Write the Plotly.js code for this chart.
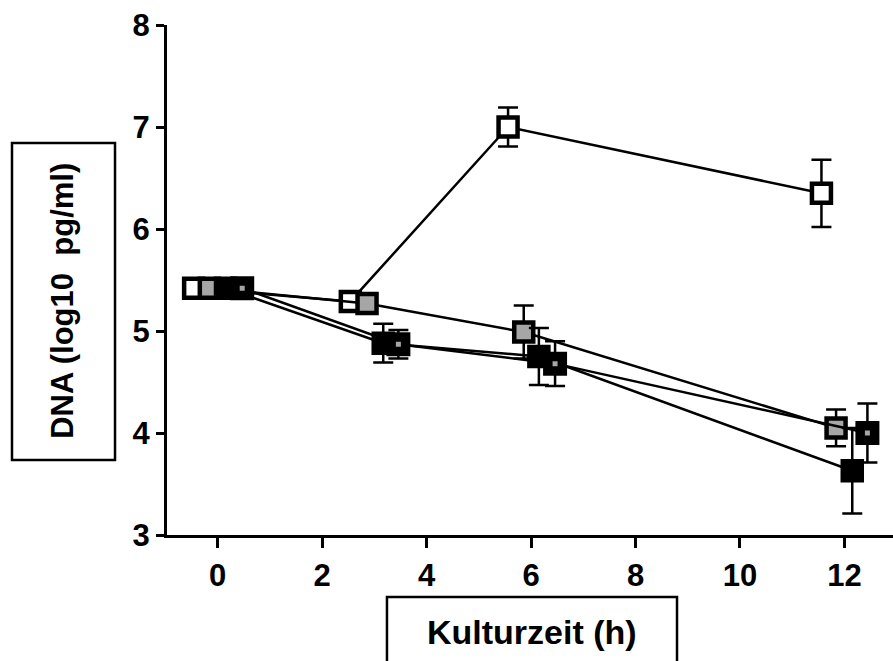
<!DOCTYPE html>
<html>
<head>
<meta charset="utf-8">
<script src="https://cdn.plot.ly/plotly-3.0.1.min.js"></script>
<style>html,body{margin:0;padding:0;background:#fff;}#chart{width:893px;height:661px;}</style>
</head>
<body>
<div id="chart"></div>
<script>
// Data (time in h, DNA in log10 pg/ml)
const xOpen   = [-0.46, 2.54, 5.56, 11.56];
const yOpen   = [5.42, 5.29, 7.00, 6.35];
const eOpen   = [0, 0, 0.19, 0.33];

const xGray   = [-0.16, 2.86, 5.86, 11.84];
const yGray   = [5.42, 5.27, 4.99, 4.05];
const eGray   = [0, 0, 0.26, 0.18];

const xBlack  = [0.15, 3.17, 6.15, 12.15];
const yBlack  = [5.42, 4.88, 4.75, 3.63];
const eBlack  = [0, 0.19, 0.28, 0.42];

const xDot    = [0.47, 3.46, 6.46, 12.44];
const yDot    = [5.42, 4.87, 4.68, 4.00];
const eDot    = [0, 0.14, 0.22, 0.29];

const yTicks = [3, 4, 5, 6, 7, 8];
const xTicks = [0, 2, 4, 6, 8, 10, 12];

const yTitle = 'DNA (log10\u00a0 pg/ml)';
const xTitle = 'Kulturzeit (h)';

const FONT = 'Liberation Sans, Arial, sans-serif';

function series(x, y, e, fill, size, lw) {
  return {
    type: 'scatter', mode: 'lines+markers', x: x, y: y,
    cliponaxis: false,
    line: {color: '#000', width: 2.5},
    marker: {symbol: 'square', size: size, color: fill, line: {color: '#000', width: lw}},
    error_y: {type: 'data', array: e, visible: true, color: '#000', thickness: 2.5, width: 10},
    showlegend: false, hoverinfo: 'x+y'
  };
}

const data = [
  series(xOpen, yOpen, eOpen, '#ffffff', 19, 4.5),
  series(xGray, yGray, eGray, '#a6a6a6', 19, 4.5),
  series(xBlack, yBlack, eBlack, '#000000', 19, 4.5),
  series(xDot, yDot, eDot, '#a6a6a6', 14.5, 9.5)
];

const layout = {
  width: 893, height: 661,
  margin: {l: 167, r: 0, t: 25, b: 126},
  paper_bgcolor: '#fff', plot_bgcolor: '#fff',
  font: {family: FONT, color: '#000'},
  xaxis: {
    range: [-0.97, 12.93], tickvals: xTicks, ticktext: xTicks.map(String),
    showgrid: false, zeroline: false, showline: true, linecolor: '#000', linewidth: 3,
    ticks: 'outside', ticklen: 10, tickwidth: 3, tickcolor: '#000',
    tickfont: {family: FONT, size: 31, weight: 'bold', color: '#000'},
    ticklabelstandoff: 1
  },
  yaxis: {
    range: [3, 8], tickvals: yTicks, ticktext: yTicks.map(String),
    showgrid: false, zeroline: false, showline: true, linecolor: '#000', linewidth: 3,
    ticks: 'outside', ticklen: 8, tickwidth: 3, tickcolor: '#000',
    tickfont: {family: FONT, size: 31, weight: 'bold', color: '#000'},
    ticklabelstandoff: 0
  },
  shapes: [
    {type: 'rect', xref: 'paper', yref: 'paper', x0: -0.2135, x1: -0.0716, y0: 0.147, y1: 0.7686,
     line: {color: '#000', width: 2.5}, fillcolor: 'rgba(0,0,0,0)'},
    {type: 'rect', xref: 'paper', yref: 'paper', x0: 0.303, x1: 0.7025, y0: -0.35, y1: -0.1216,
     line: {color: '#000', width: 2.5}, fillcolor: 'rgba(0,0,0,0)'}
  ],
  annotations: [
    {xref: 'paper', yref: 'paper', x: -0.1433, y: 0.459, text: yTitle, textangle: -90,
     showarrow: false, xanchor: 'center', yanchor: 'middle',
     font: {family: FONT, size: 31, weight: 'bold', color: '#000'}},
    {xref: 'paper', yref: 'paper', x: 0.5028, y: -0.19, text: xTitle,
     showarrow: false, xanchor: 'center', yanchor: 'middle',
     font: {family: FONT, size: 34, weight: 'bold', color: '#000'}}
  ]
};

Plotly.newPlot('chart', data, layout, {staticPlot: true, displayModeBar: false});
</script>
</body>
</html>
